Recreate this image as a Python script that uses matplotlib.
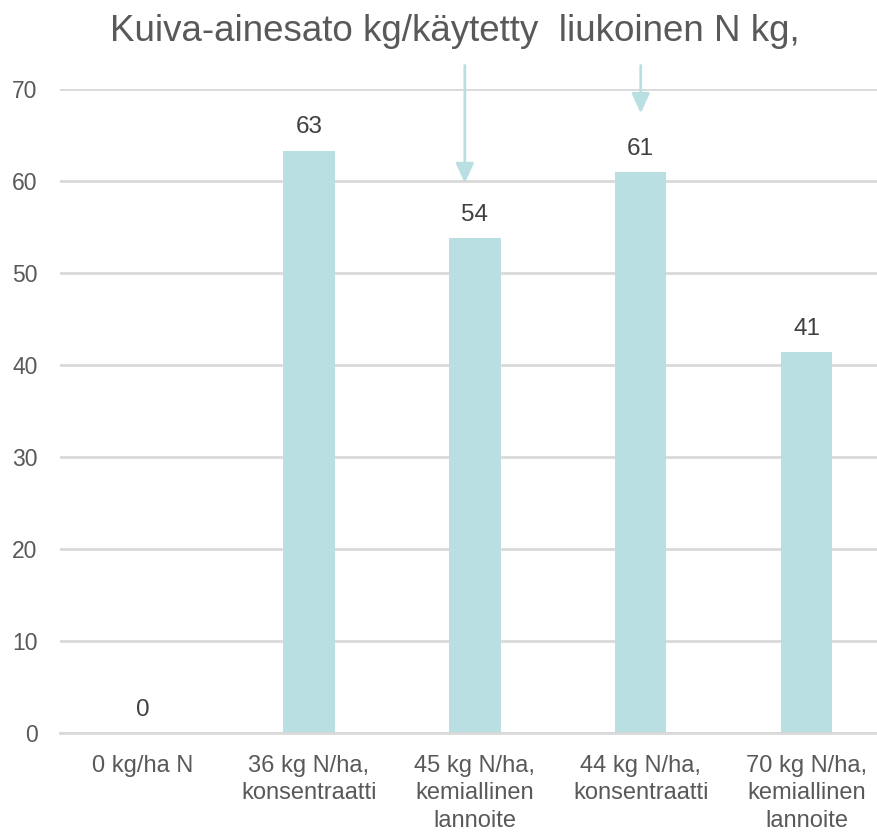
import matplotlib.pyplot as plt
import numpy as np

plt.rcParams['font.family'] = ['Liberation Sans', 'DejaVu Sans']

categories = ['0 kg/ha N', '36 kg N/ha,\nkonsentraatti', '45 kg N/ha,\nkemiallinen\nlannoite',
              '44 kg N/ha,\nkonsentraatti', '70 kg N/ha,\nkemiallinen\nlannoite']
values = [0, 63.3, 53.8, 61.0, 41.4]
bar_labels = ['0', '63', '54', '61', '41']
# arrows: (category position, tip value)
arrow_x = [1.94, 3.0]
arrow_tip = [59.8, 67.4]

bar_color = '#B9DFE2'
text_color = '#595959'

fig = plt.figure(figsize=(8.78, 8.35), dpi=100)
ax = fig.add_axes([0.0683, 0.122, 0.9317, 0.771])

x = np.arange(len(categories))
ax.bar(x, values, width=0.31, color=bar_color, zorder=2)

for xi, v, lab in zip(x, values, bar_labels):
    ax.annotate(lab, (xi, v), textcoords='offset points', xytext=(0, 9),
                ha='center', va='bottom', fontsize=17.5, color='#404040')

for ax_x, tip in zip(arrow_x, arrow_tip):
    ax.annotate('', xy=(ax_x, tip), xytext=(ax_x, 72.6),
                arrowprops=dict(arrowstyle='-|>,head_length=1.2,head_width=0.55',
                                color=bar_color, lw=2, shrinkA=0, shrinkB=0),
                annotation_clip=False)

ax.set_xlim(-0.5, 4.43)
ax.set_ylim(0, 70)
ax.set_yticks(range(0, 71, 10))
ax.set_xticks(x)
ax.set_xticklabels(categories, fontsize=17, color=text_color, linespacing=1.3)
ax.tick_params(axis='y', labelsize=16.5, labelcolor=text_color, length=0, pad=16)
ax.tick_params(axis='x', length=0, pad=16)
ax.grid(axis='y', color='#D9D9D9', linewidth=2, zorder=0)
ax.set_axisbelow(True)
for s in ['top', 'right', 'left']:
    ax.spines[s].set_visible(False)
ax.spines['bottom'].set_color('#D9D9D9')
ax.spines['bottom'].set_linewidth(2)

fig.text(0.518, 0.962, 'Kuiva-ainesato kg/käytetty  liukoinen N kg,', ha='center', va='center',
         fontsize=26.5, color=text_color)

fig.savefig('out.png', dpi=100)
